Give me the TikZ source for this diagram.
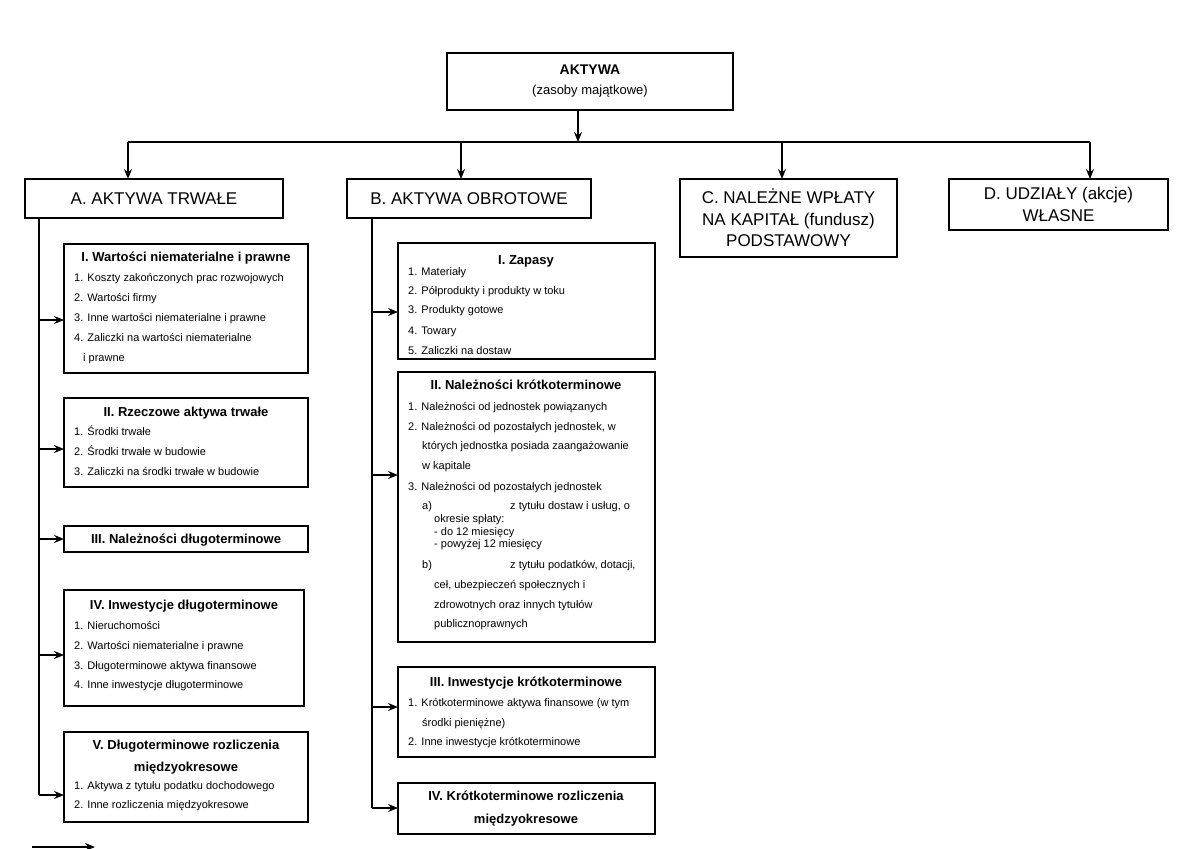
\documentclass[tikz,border=0pt]{standalone}
\usepackage{fontspec}
\setmainfont{Liberation Sans}
\usetikzlibrary{arrows.meta}
\tikzset{
  box/.style={draw, line width=2pt, inner sep=0pt, outer sep=0pt, anchor=north west, align=center},
  con/.style={line width=1.8pt},
  arr/.style={con, -{Stealth[length=10pt,width=8pt,inset=3.5pt]}},
  hdr/.style={font=\fontsize{17}{21.5}\selectfont},
  ttl/.style={font=\bfseries\fontsize{13}{16}\selectfont, anchor=base, inner sep=0pt, yshift=-4.5pt},
  itm/.style={font=\fontsize{11}{13}\selectfont, anchor=base west, inner sep=0pt, yshift=-3.8pt},
}
\begin{document}
\begin{tikzpicture}[x=1pt,y=-1pt]
\useasboundingbox (0,0) rectangle (1200,849);
% main boxes
\node[box, line width=2.6pt, minimum width=286pt, minimum height=57pt, font=\fontsize{13}{20}\selectfont] (top) at (447,53)
  {{\bfseries\fontsize{14}{20}\selectfont AKTYWA}\\(zasoby majątkowe)};
\node[box, hdr, minimum width=258pt, minimum height=39pt] (A) at (25,179) {A. AKTYWA TRWAŁE};
\node[box, hdr, minimum width=244pt, minimum height=39pt] (B) at (347,179) {B. AKTYWA OBROTOWE};
\node[box, hdr, minimum width=217pt, minimum height=78pt] (C) at (680,179) {C. NALEŻNE WPŁATY\\NA KAPITAŁ (fundusz)\\PODSTAWOWY};
\node[box, hdr, minimum width=219pt, minimum height=51pt] (D) at (949,179) {D. UDZIAŁY (akcje)\\WŁASNE};
% column A boxes
\node[box, minimum width=244pt, minimum height=129pt] (AI) at (64,244) {};
\node[box, minimum width=244pt, minimum height=89pt] (AII) at (64,398) {};
\node[box, minimum width=244pt, minimum height=26pt] (AIII) at (64,526) {};
\node[box, minimum width=240pt, minimum height=116pt] (AIV) at (64,590) {};
\node[box, minimum width=244pt, minimum height=90pt] (AV) at (64,732) {};
% column B boxes
\node[box, minimum width=257pt, minimum height=116pt] (BI) at (398,243) {};
\node[box, minimum width=257pt, minimum height=270pt] (BII) at (398,372) {};
\node[box, minimum width=257pt, minimum height=90pt] (BIII) at (398,667) {};
\node[box, minimum width=257pt, minimum height=51pt] (BIV) at (398,783) {};
% texts column A
\node[ttl] at (186,257) {I. Wartości niematerialne i prawne};
\node[itm] at (74,278) {1. Koszty zakończonych prac rozwojowych};
\node[itm] at (74,298) {2. Wartości firmy};
\node[itm] at (74,318) {3. Inne wartości niematerialne i prawne};
\node[itm] at (74,338) {4. Zaliczki na wartości niematerialne};
\node[itm] at (83,358) {i prawne};
\node[ttl] at (186,412) {II. Rzeczowe aktywa trwałe};
\node[itm] at (74,432) {1. Środki trwałe};
\node[itm] at (74,452) {2. Środki trwałe w budowie};
\node[itm] at (74,472) {3. Zaliczki na środki trwałe w budowie};
\node[ttl] at (186,539) {III. Należności długoterminowe};
\node[ttl] at (184,605) {IV. Inwestycje długoterminowe};
\node[itm] at (74,626) {1. Nieruchomości};
\node[itm] at (74,646) {2. Wartości niematerialne i prawne};
\node[itm] at (74,666) {3. Długoterminowe aktywa finansowe};
\node[itm] at (74,685) {4. Inne inwestycje długoterminowe};
\node[ttl] at (186,745) {V. Długoterminowe rozliczenia};
\node[ttl] at (186,767) {międzyokresowe};
\node[itm] at (74,786) {1. Aktywa z tytułu podatku dochodowego};
\node[itm] at (74,805) {2. Inne rozliczenia międzyokresowe};
% texts column B
\node[ttl] at (526,260) {I. Zapasy};
\node[itm] at (408,272) {1. Materiały};
\node[itm] at (408,291) {2. Półprodukty i produkty w toku};
\node[itm] at (408,310) {3. Produkty gotowe};
\node[itm] at (408,331) {4. Towary};
\node[itm] at (408,351) {5. Zaliczki na dostaw};
\node[ttl] at (526,385) {II. Należności krótkoterminowe};
\node[itm] at (408,407) {1. Należności od jednostek powiązanych};
\node[itm] at (408,427) {2. Należności od pozostałych jednostek, w};
\node[itm] at (422,446) {których jednostka posiada zaangażowanie};
\node[itm] at (422,466) {w kapitale};
\node[itm] at (408,487) {3. Należności od pozostałych jednostek};
\node[itm] at (422,506) {a)};
\node[itm] at (510,506) {z tytułu dostaw i usług, o};
\node[itm] at (434,519) {okresie spłaty:};
\node[itm] at (434,532) {- do 12 miesięcy};
\node[itm] at (434,544) {- powyżej 12 miesięcy};
\node[itm] at (422,565) {b)};
\node[itm] at (510,565) {z tytułu podatków, dotacji,};
\node[itm] at (434,585) {ceł, ubezpieczeń społecznych i};
\node[itm] at (434,605) {zdrowotnych oraz innych tytułów};
\node[itm] at (434,624) {publicznoprawnych};
\node[ttl] at (526,682) {III. Inwestycje krótkoterminowe};
\node[itm] at (408,703) {1. Krótkoterminowe aktywa finansowe (w tym};
\node[itm] at (422,723) {środki pieniężne)};
\node[itm] at (408,742) {2. Inne inwestycje krótkoterminowe};
\node[ttl] at (526,796) {IV. Krótkoterminowe rozliczenia};
\node[ttl] at (526,819) {międzyokresowe};
% connectors: top level
\coordinate (j0) at (578,142);
\coordinate (jA) at (128,142);
\coordinate (jB) at (461,142);
\coordinate (jC) at (782,142);
\coordinate (jD) at (1090,142);
\draw[arr] (top.south -| j0) -- (j0);
\draw[con] (jA) -- (jD);
\draw[arr] (jA) -- (jA |- A.north);
\draw[arr] (jB) -- (jB |- B.north);
\draw[arr] (jC) -- (jC |- C.north);
\draw[arr] (jD) -- (jD |- D.north);
% column A
\coordinate (cA) at (39,218);
\coordinate (aI) at (39,320);
\coordinate (aII) at (39,449);
\coordinate (aIII) at (39,539);
\coordinate (aIV) at (39,655);
\coordinate (aV) at (39,795);
\draw[con] (cA) -- (aV);
\draw[arr] (aI) -- (aI -| AI.west);
\draw[arr] (aII) -- (aII -| AII.west);
\draw[arr] (aIII) -- (aIII -| AIII.west);
\draw[arr] (aIV) -- (aIV -| AIV.west);
\draw[arr] (aV) -- (aV -| AV.west);
% column B
\coordinate (cB) at (372,218);
\coordinate (bI) at (372,312);
\coordinate (bII) at (372,475);
\coordinate (bIII) at (372,707);
\coordinate (bIV) at (372,808);
\draw[con] (cB) -- (bIV);
\draw[arr] (bI) -- (bI -| BI.west);
\draw[arr] (bII) -- (bII -| BII.west);
\draw[arr] (bIII) -- (bIII -| BIII.west);
\draw[arr] (bIV) -- (bIV -| BIV.west);
% stray arrow
\coordinate (s1) at (32,847);
\coordinate (s2) at (95,847);
\draw[arr] (s1) -- (s2);
\end{tikzpicture}
\end{document}
